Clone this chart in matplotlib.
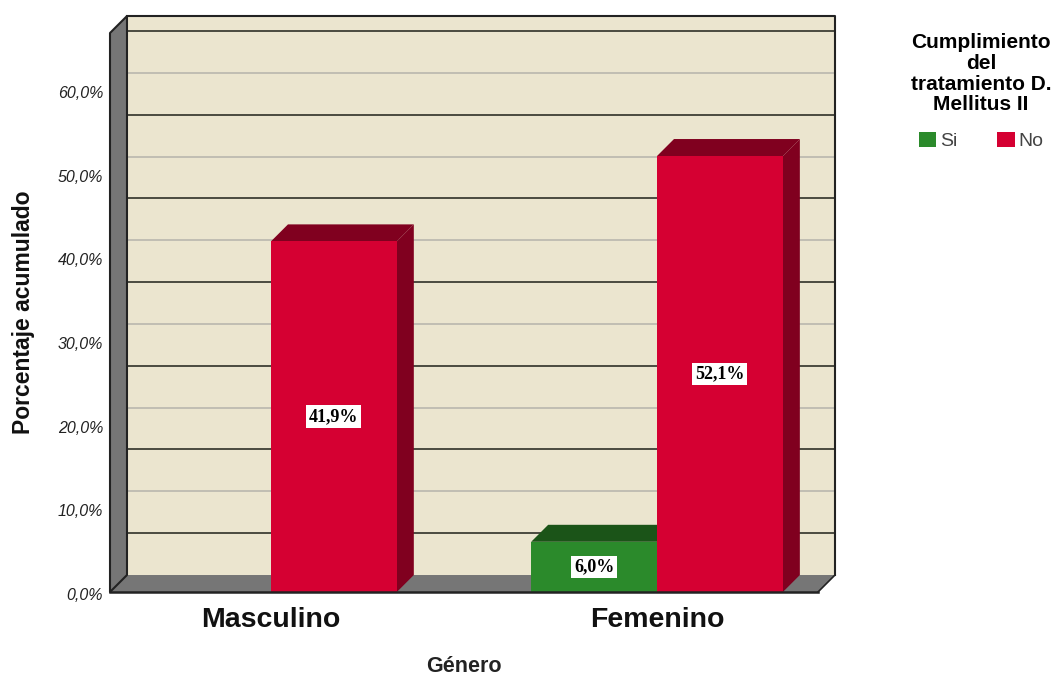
import numpy as np
import matplotlib
matplotlib.use("agg")
from matplotlib import pyplot as plt
from matplotlib.patches import Polygon, Patch
from matplotlib.transforms import ScaledTranslation

categories = ["Masculino", "Femenino"]
si_values = [0.0, 6.0]
no_values = [41.9, 52.1]
tick_values = [0, 10, 20, 30, 40, 50, 60]
tick_labels = ["0,0%", "10,0%", "20,0%", "30,0%", "40,0%", "50,0%", "60,0%"]
light_grid = [10, 20, 30, 40, 50, 60]
dark_grid = [5, 15, 25, 35, 45, 55, 65]
legend_title = "Cumplimiento\ndel\ntratamiento D.\nMellitus II"

WALL = "#ebe5cf"
GREY = "#767676"
EDGE = "#222222"
RED = ("#d50032", "#80001f")
GREEN = ("#2b8a2b", "#1b5418")

W, H = 1053, 677
plt.rcParams["font.family"] = ["Liberation Sans", "DejaVu Sans"]

fig = plt.figure(figsize=(W / 100, H / 100), dpi=100)
ax = fig.add_axes([110 / W, 1 - 592 / H, 708 / W, 559 / H])

bar_w = 0.326
xmin, xmax = -0.417, 1.417
ymax = 66.8
ax.set_xlim(xmin, xmax)
ax.set_ylim(0, ymax)
# oblique depth of the box, in data units
dx = 0.044
dy = 2.03


def poly(pts, fc, ec="none", lw=0, z=1):
    ax.add_patch(Polygon(pts, closed=True, fc=fc, ec=ec, lw=lw, zorder=z,
                         clip_on=False, joinstyle="round"))


# box: back wall, left wall, floor
poly([(xmin + dx, dy), (xmax + dx, dy), (xmax + dx, ymax + dy), (xmin + dx, ymax + dy)], WALL)
poly([(xmin, 0), (xmin + dx, dy), (xmin + dx, ymax + dy), (xmin, ymax)], GREY, EDGE, 1.5, 3)
poly([(xmin, 0), (xmax, 0), (xmax + dx, dy), (xmin + dx, dy)], GREY, "none", 0, 2)

for v in light_grid:
    ax.plot([xmin + dx, xmax + dx], [v + dy, v + dy], color="#bdbab0", lw=1.3, zorder=1.5, clip_on=False)
for v in dark_grid:
    ax.plot([xmin + dx, xmax + dx], [v + dy, v + dy], color="#4a4a40", lw=1.4, zorder=1.6, clip_on=False)

# outline of the back wall and floor edges
ax.plot([xmin + dx, xmax + dx, xmax + dx], [ymax + dy, ymax + dy, dy], color=EDGE, lw=1.5, zorder=2.5, clip_on=False)
ax.plot([xmax, xmax + dx], [0, dy], color=EDGE, lw=1.2, zorder=2.5, clip_on=False)


def bar3d(left, value, colors, z):
    right = left + bar_w
    ax.bar(left, value, bar_w, align="edge", color=colors[0], zorder=z + 0.2)
    poly([(left, value), (right, value), (right + dx, value + dy), (left + dx, value + dy)], colors[1], z=z)
    poly([(right, 0), (right + dx, dy), (right + dx, value + dy), (right, value)], colors[1], z=z)


def value_label(x, value):
    ax.text(x, value / 2, f"{value:.1f}%".replace(".", ","), ha="center", va="center",
            family=["Liberation Serif", "DejaVu Serif"], fontweight="bold", fontsize=13, color="black", zorder=8,
            bbox=dict(fc="white", ec="none", pad=2))


for i in range(len(categories)):
    if si_values[i] > 0:
        bar3d(i - bar_w, si_values[i], GREEN, 4)
        value_label(i - bar_w / 2, si_values[i])
    if no_values[i] > 0:
        bar3d(i, no_values[i], RED, 5)
        value_label(i + bar_w / 2, no_values[i])

ax.plot([xmin, xmax], [0, 0], color=EDGE, lw=1.8, zorder=7, clip_on=False)

for s in ax.spines.values():
    s.set_visible(False)
ax.patch.set_visible(False)

ax.set_yticks(tick_values)
ax.set_yticklabels(tick_labels, fontsize=11.5, fontstyle="italic", color="#222222")
ax.set_xticks(range(len(categories)))
ax.set_xticklabels(categories, fontsize=20.5, fontweight="bold", color="#111111")
ax.tick_params(axis="both", length=0)
ax.tick_params(axis="y", pad=5)
ax.tick_params(axis="x", pad=11)
# tick labels sit a little under their nominal height
shift = ScaledTranslation(0, -1.5 / 72, fig.dpi_scale_trans)
for lab in ax.get_yticklabels():
    lab.set_transform(lab.get_transform() + shift)

fig.text(464 / W, 1 - 672 / H, "Género", ha="center", va="baseline", fontsize=15.5, fontweight="bold", color="#222222")
fig.text(24 / W, 1 - 312 / H, "Porcentaje acumulado", rotation=90, ha="center", va="center",
         fontsize=16.5, fontweight="bold", color="#111111")

handles = [Patch(fc=GREEN[0], label="Si"), Patch(fc=RED[0], label="No")]
leg = fig.legend(handles=handles, title=legend_title, ncol=2, frameon=False,
                 loc="upper center", bbox_to_anchor=(981 / W, 1 - 16 / H),
                 fontsize=14, labelcolor="#444444", handlelength=0.92, handleheight=0.82,
                 handletextpad=0.2, columnspacing=2.0, borderpad=0.4, labelspacing=0.3)
leg.get_title().set_fontweight("bold")
leg.get_title().set_fontsize(15)
leg.get_title().set_multialignment("center")
leg.get_title().set_linespacing(1.1)
leg._legend_box.sep = 13

fig.savefig("out.png", dpi=100)
